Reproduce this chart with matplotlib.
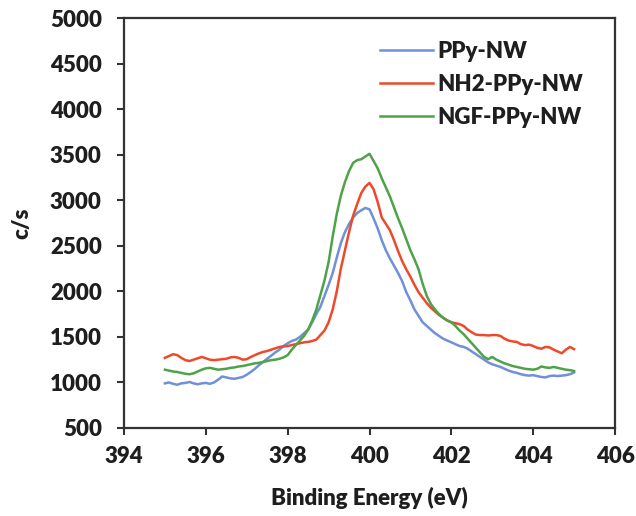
import numpy as np
import matplotlib
matplotlib.use("Agg")
import matplotlib.pyplot as plt

plt.rcParams['font.family'] = ['Lato', 'DejaVu Sans']

# binding energy grid (eV), 0.1 eV steps
energy = np.round(np.arange(395.0, 405.05, 0.1), 1)

ppy_nw = [
    990, 1000, 985, 975, 990, 995, 1005, 990, 980, 990,
    995, 985, 1000, 1030, 1065, 1055, 1045, 1040, 1050, 1060,
    1085, 1115, 1150, 1190, 1225, 1260, 1295, 1330, 1360, 1400,
    1430, 1455, 1470, 1500, 1540, 1580, 1660, 1750, 1830, 1950,
    2070, 2200, 2370, 2530, 2650, 2740, 2810, 2860, 2890, 2915,
    2900, 2800, 2690, 2560, 2450, 2360, 2280, 2200, 2110, 1990,
    1900, 1800, 1730, 1660, 1620, 1580, 1540, 1510, 1480, 1460,
    1440, 1420, 1400, 1390, 1370, 1340, 1310, 1280, 1250, 1220,
    1200, 1185, 1170, 1150, 1130, 1115, 1105, 1090, 1080, 1075,
    1080, 1070, 1060, 1055, 1070, 1075, 1070, 1075, 1080, 1090,
    1110,
]

nh2_ppy_nw = [
    1270, 1290, 1310, 1300, 1270, 1245, 1235, 1250, 1265, 1280,
    1265, 1250, 1245, 1250, 1255, 1260, 1275, 1280, 1270, 1250,
    1255, 1280, 1300, 1320, 1335, 1345, 1360, 1375, 1390, 1395,
    1400, 1410, 1420, 1430, 1440, 1445, 1455, 1470, 1520, 1570,
    1660, 1800, 2000, 2250, 2450, 2650, 2830, 2960, 3080, 3150,
    3190, 3120, 2980, 2810, 2740, 2670, 2560, 2440, 2330, 2240,
    2160, 2070, 1990, 1930, 1870, 1820, 1780, 1740, 1710, 1680,
    1660, 1650, 1640, 1620, 1580, 1550, 1525, 1520, 1520, 1515,
    1520, 1520, 1510, 1480, 1460, 1450, 1445, 1420, 1410, 1415,
    1400, 1380, 1370, 1390, 1385, 1360, 1340, 1320, 1360, 1390,
    1365,
]

ngf_ppy_nw = [
    1140, 1130, 1120, 1115, 1105, 1095, 1090, 1100, 1120, 1140,
    1155, 1160, 1150, 1140, 1145, 1150, 1160, 1165, 1175, 1180,
    1190, 1200, 1210, 1215, 1225, 1235, 1245, 1250, 1260, 1275,
    1300, 1360, 1410, 1460, 1510, 1580, 1680, 1800, 1960, 2120,
    2320, 2600, 2850, 3050, 3200, 3320, 3410, 3440, 3450, 3480,
    3510, 3430, 3350, 3240, 3140, 3040, 2920, 2800, 2690, 2570,
    2450, 2350, 2240, 2080, 1950, 1860, 1800, 1750, 1710, 1680,
    1660, 1620, 1570, 1530, 1480, 1430, 1380, 1330, 1280, 1255,
    1280, 1250, 1230, 1210, 1195, 1180, 1170, 1160, 1150, 1145,
    1140, 1150, 1175, 1165, 1160, 1170, 1160, 1150, 1140, 1135,
    1125,
]

labels = ["PPy-NW", "NH2-PPy-NW", "NGF-PPy-NW"]
colors = ["#7090d8", "#ec4a2a", "#4ea248"]
txt = "#1e1e1e"

fig = plt.figure(figsize=(6.36, 5.16), dpi=100)
ax = fig.add_axes([124 / 636, 1 - 428 / 516, (615 - 124) / 636, (428 - 18) / 516])

for y, lab, c in zip([ppy_nw, nh2_ppy_nw, ngf_ppy_nw], labels, colors):
    ax.plot(energy, y, color=c, lw=1.8, label=lab)

ax.set_xlim(394, 406)
ax.set_ylim(500, 5000)
ax.set_xticks(np.arange(394, 407, 2))
ax.set_yticks(np.arange(500, 5001, 500))

for s in ax.spines.values():
    s.set_linewidth(1.6)
    s.set_color("#333333")
ax.tick_params(direction="out", length=5, width=1.5, color="#333333",
               labelsize=16, labelcolor=txt)
ax.tick_params(axis="x", pad=8)
ax.tick_params(axis="y", pad=11)
for t in ax.get_xticklabels() + ax.get_yticklabels():
    t.set_fontweight("heavy")

ax.set_xlabel("Binding Energy (eV)", fontsize=16, fontweight="heavy", color=txt)
ax.xaxis.set_label_coords(0.5, (428 - 498) / 410)
ax.xaxis.label.set_va("center")
ax.set_ylabel("c/s", fontsize=16, fontweight="heavy", color=txt)
ax.yaxis.set_label_coords((22 - 124) / 491, 0.5)
ax.yaxis.label.set_va("center")

leg = ax.legend(loc="upper left", bbox_to_anchor=(0.521, 0.945), frameon=False,
                fontsize=16, handlelength=2.4, handletextpad=0.18,
                labelspacing=0.55, borderpad=0, borderaxespad=0)
for t in leg.get_texts():
    t.set_fontweight("heavy")
    t.set_color(txt)

fig.savefig("out.png", dpi=100)
